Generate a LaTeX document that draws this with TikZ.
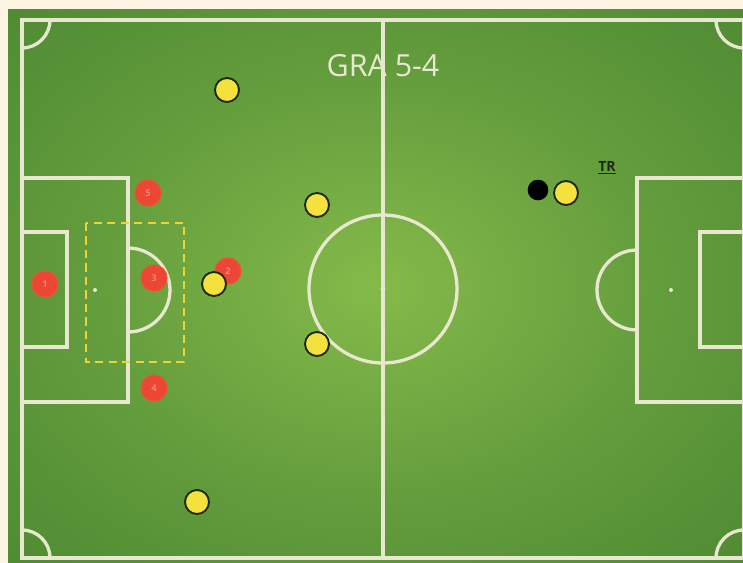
\documentclass[tikz,border=0pt]{standalone}
\usepackage{fontspec}
\setsansfont{Open Sans}
\usepackage{tikz}
\usetikzlibrary{positioning}
\definecolor{pitchcream}{HTML}{FDF5E4}
\definecolor{pitchlight}{HTML}{85BA4A}
\definecolor{pitchmid}{HTML}{629C3C}
\definecolor{pitchgreen}{HTML}{447F2E}
\definecolor{pitchdark}{HTML}{2A571D}
\definecolor{pitchline}{HTML}{E8E8D0}
\definecolor{playeryellow}{HTML}{F4E13E}
\definecolor{playerrim}{HTML}{1C2A14}
\definecolor{playerred}{HTML}{EC4637}
\definecolor{playerredlight}{HTML}{F4826E}
\definecolor{zonegold}{HTML}{EDD435}
\pgfdeclareradialshading{pitchglow}{\pgfpoint{0bp}{0bp}}{color(0bp)=(pitchlight); color(20bp)=(pitchmid); color(46bp)=(pitchgreen); color(72bp)=(pitchdark)}

\begin{document}
\begin{tikzpicture}[x=0.03cm, y=-0.03cm,
    pline/.style={draw=pitchline, line width=2.8pt},
    yplayer/.style={circle, fill=playeryellow, draw=playerrim, line width=1.6pt, minimum size=0.72cm, inner sep=0pt},
    rplayer/.style={circle, fill=playerred, draw=playerred!80!orange, line width=1pt, minimum size=0.78cm, inner sep=0pt, text=playerredlight, font=\sffamily\bfseries\footnotesize},
    ball/.style={circle, fill=black, minimum size=0.62cm, inner sep=0pt},
    zone/.style={draw=zonegold, line width=2.2pt, dash pattern=on 7pt off 4.5pt},
    title/.style={text=pitchline, font=\sffamily\fontsize{26}{30}\selectfont},
    tag/.style={text=playerrim, font=\sffamily\bfseries\fontsize{12}{14}\selectfont, inner sep=1pt}
  ]
    \useasboundingbox (0,0) rectangle (743,563);
    \fill[pitchcream] (0,0) rectangle (743,563);
    \shade[shading=pitchglow] (8,10) rectangle (743,563);
    \draw[pline] (22,20) rectangle (744,558);
    \draw[pline] (383,20) -- (383,558);
    \draw[pline] (383,289) circle (74);
    \fill[pitchline] (383,289) circle (2.5);
    \draw[pline] (22,178) rectangle (128,402);
    \draw[pline] (22,232) rectangle (67,347);
    \fill[pitchline] (95,290) circle (2);
    \draw[pline] (128,248) arc (-90:90:42);
    \draw[pline] (637,178) rectangle (744,402);
    \draw[pline] (700,232) rectangle (744,347);
    \fill[pitchline] (671,290) circle (2);
    \draw[pline] (637,250) arc (-90:-270:40);
    \draw[pline] (50,20) arc (0:90:28);
    \draw[pline] (716,20) arc (180:90:28);
    \draw[pline] (50,558) arc (0:-90:28);
    \draw[pline] (716,558) arc (180:270:28);
    \node[title] (title) at (383,66) {GRA 5-4};
    \node[tag] (tr) at (607,168) {\underline{TR}};
    \draw[zone] (86,223) rectangle (184,362);
    \node[rplayer] (r1) at (45,284) {1};
    \node[rplayer] (r2) at (228,271) {2};
    \node[rplayer] (r3) at (154,278) {3};
    \node[rplayer] (r4) at (154,388) {4};
    \node[rplayer] (r5) at (148,193) {5};
    \node[yplayer] (y1) at (227,90) {};
    \node[yplayer] (y2) at (317,205) {};
    \node[yplayer] (y3) at (214,284) {};
    \node[yplayer] (y4) at (317,344) {};
    \node[yplayer] (y5) at (197,502) {};
    \node[yplayer] (y6) at (566,193) {};
    \node[ball] (ball) at (538,190) {};
  \end{tikzpicture}
\end{document}
